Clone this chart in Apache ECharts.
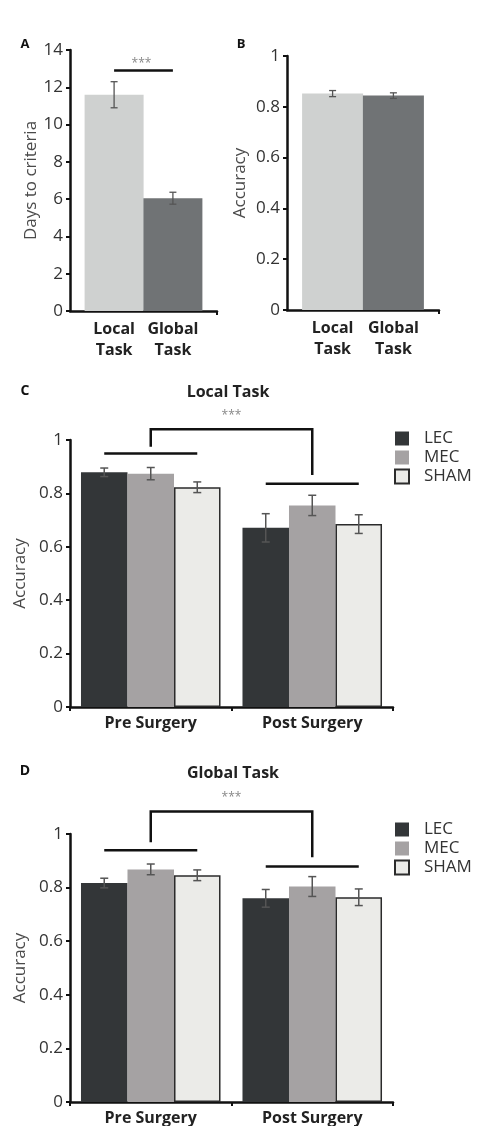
<!DOCTYPE html>
<html>
<head>
<meta charset="utf-8">
<script src="https://cdn.jsdelivr.net/npm/echarts@6/dist/echarts.min.js"></script>
<style>
html,body{margin:0;padding:0;background:#fff;}
#chart{width:485px;height:1126px;}
</style>
</head>
<body>
<div id="chart"></div>
<script>
// ---------- data ----------
const taskCats = ['Local\nTask', 'Global\nTask'];
const taskPos = [1, 2];
const taskColors = ['#cfd1d0', '#707375'];
const daysMean = [11.6, 6.05];
const daysErr = [0.7, 0.32];
const accMean = [0.852, 0.844];
const accErr = [0.012, 0.011];
const daysTicks = [0, 14, 2];   // min, max, interval
const accTicks = [0, 1, 0.2];

const groups = ['Pre Surgery', 'Post Surgery'];
const lesionNames = ['LEC', 'MEC', 'SHAM'];
const lesionColors = ['#333638', '#a5a2a3', '#ebebe8'];

const localLEC = [0.879, 0.671];
const localMEC = [0.874, 0.755];
const localSHAM = [0.823, 0.685];
const localLECErr = [0.016, 0.053];
const localMECErr = [0.023, 0.038];
const localSHAMErr = [0.02, 0.035];

const globalLEC = [0.817, 0.76];
const globalMEC = [0.868, 0.804];
const globalSHAM = [0.846, 0.764];
const globalLECErr = [0.018, 0.033];
const globalMECErr = [0.02, 0.037];
const globalSHAMErr = [0.02, 0.031];

// significance annotations (data units)
const sigA = [1, 2, 12.9];                        // from, to, level
const bracketC = [1.04, 0.975, 0.869, 0.949, 0.836]; // top, left foot, right foot, pre line, post line
const bracketD = [1.084, 0.969, 0.913, 0.939, 0.879];

// ---------- style ----------
const FONT = 'Open Sans';
const GAP = 0.136;
const axisColor = '#111';
const errColor = '#555';

function yAxisCfg(grid, ticks, name, nameGap) {
  return {
    type: 'value', gridIndex: grid, min: ticks[0], max: ticks[1], interval: ticks[2],
    name: name, nameLocation: 'middle', nameGap: nameGap,
    nameTextStyle: { fontFamily: FONT, fontSize: 17, color: '#4a4a4a' },
    axisLine: { show: true, onZero: false, lineStyle: { color: axisColor, width: 2.5 } },
    axisTick: { show: true, length: 4, lineStyle: { color: axisColor, width: 2 } },
    axisLabel: { fontFamily: FONT, fontSize: 17, color: '#333', margin: 7 },
    splitLine: { show: false }
  };
}
function xTaskCfg(grid) {
  return {
    type: 'value', gridIndex: grid, min: 0.25, max: 2.75,
    axisLine: { show: true, onZero: false, lineStyle: { color: axisColor, width: 2.5 } },
    axisTick: { show: true, length: 4, customValues: [2.75], lineStyle: { color: axisColor, width: 2 } },
    axisLabel: {
      customValues: taskPos,
      formatter: v => taskCats[taskPos.indexOf(v)] || '',
      fontFamily: FONT, fontSize: 16, fontWeight: 'bold', color: '#222',
      lineHeight: 21, margin: 8
    },
    splitLine: { show: false }
  };
}
function xGroupCfg(grid) {
  return {
    type: 'category', gridIndex: grid, data: groups,
    axisLine: { show: true, lineStyle: { color: axisColor, width: 2.5 } },
    axisTick: { show: true, length: 4, lineStyle: { color: axisColor, width: 2 } },
    axisLabel: { fontFamily: FONT, fontSize: 16, fontWeight: 'bold', color: '#222', margin: 8 },
    splitLine: { show: false }
  };
}

function errTaskSeries(idx, means, errs) {
  return {
    type: 'custom', xAxisIndex: idx, yAxisIndex: idx, z: 5, silent: true,
    data: taskPos.map((p, i) => [p, means[i], errs[i]]),
    renderItem: function (params, api) {
      const x = api.value(0), m = api.value(1), e = api.value(2);
      const t = api.coord([x, m + e]), b = api.coord([x, m - e]);
      const c = 3.5;
      const ls = { stroke: errColor, lineWidth: 1.3 };
      return { type: 'group', children: [
        { type: 'line', shape: { x1: t[0], y1: t[1], x2: b[0], y2: b[1] }, style: ls },
        { type: 'line', shape: { x1: t[0] - c, y1: t[1], x2: t[0] + c, y2: t[1] }, style: ls },
        { type: 'line', shape: { x1: b[0] - c, y1: b[1], x2: b[0] + c, y2: b[1] }, style: ls }
      ]};
    }
  };
}

function errGroupSeries(idx, k, means, errs) {
  return {
    type: 'custom', name: lesionNames[k] + ' error', xAxisIndex: idx, yAxisIndex: idx, z: 5, silent: true,
    data: groups.map((g, i) => [i, means[i], errs[i]]),
    renderItem: function (params, api) {
      const band = api.size([1, 0])[0];
      const bw = band * (1 - GAP) / 3;
      const m = api.value(1), e = api.value(2);
      const t = api.coord([api.value(0), m + e]), b = api.coord([api.value(0), m - e]);
      const x = t[0] + (k - 1) * bw;
      const c = 4;
      const ls = { stroke: errColor, lineWidth: 1.5 };
      return { type: 'group', children: [
        { type: 'line', shape: { x1: x, y1: t[1], x2: x, y2: b[1] }, style: ls },
        { type: 'line', shape: { x1: x - c, y1: t[1], x2: x + c, y2: t[1] }, style: ls },
        { type: 'line', shape: { x1: x - c, y1: b[1], x2: x + c, y2: b[1] }, style: ls }
      ]};
    }
  };
}

function bracketSeries(idx, br) {
  return {
    type: 'custom', xAxisIndex: idx, yAxisIndex: idx, z: 6, silent: true, clip: false,
    data: [[0, br[0]]],
    renderItem: function (params, api) {
      const band = api.size([1, 0])[0];
      const bw = band * (1 - GAP) / 3;
      const L = api.coord([0, br[0]]), R = api.coord([1, br[0]]);
      const lf = api.coord([0, br[1]])[1], rf = api.coord([1, br[2]])[1];
      const pre = api.coord([0, br[3]]), post = api.coord([1, br[4]]);
      const ls = { stroke: axisColor, lineWidth: 2.5, fill: null };
      return { type: 'group', children: [
        { type: 'polyline', shape: { points: [[L[0], lf], [L[0], L[1]], [R[0], R[1]], [R[0], rf]] }, style: ls },
        { type: 'line', shape: { x1: pre[0] - bw, y1: pre[1], x2: pre[0] + bw, y2: pre[1] }, style: ls },
        { type: 'line', shape: { x1: post[0] - bw, y1: post[1], x2: post[0] + bw, y2: post[1] }, style: ls },
        { type: 'text', x: (L[0] + R[0]) / 2, y: L[1] - 14,
          style: { text: '***', fill: '#888', font: '12px "' + FONT + '"', align: 'center', verticalAlign: 'middle' } }
      ]};
    }
  };
}

const series = [];
// Panel A
series.push({
  type: 'bar', xAxisIndex: 0, yAxisIndex: 0, barWidth: 59,
  data: taskPos.map((p, i) => ({ value: [p, daysMean[i]], itemStyle: { color: taskColors[i] } }))
});
series.push(errTaskSeries(0, daysMean, daysErr));
series.push({
  type: 'custom', xAxisIndex: 0, yAxisIndex: 0, z: 6, silent: true, clip: false,
  data: [[sigA[0], sigA[2], sigA[1]]],
  renderItem: function (params, api) {
    const a = api.coord([api.value(0), api.value(1)]);
    const b = api.coord([api.value(2), api.value(1)]);
    return { type: 'group', children: [
      { type: 'line', shape: { x1: a[0], y1: a[1], x2: b[0], y2: b[1] }, style: { stroke: axisColor, lineWidth: 2.5 } },
      { type: 'text', x: (a[0] + b[0]) / 2 - 2, y: a[1] - 7,
        style: { text: '***', fill: '#888', font: '12px "' + FONT + '"', align: 'center', verticalAlign: 'middle' } }
    ]};
  }
});
// Panel B
series.push({
  type: 'bar', xAxisIndex: 1, yAxisIndex: 1, barWidth: 61,
  data: taskPos.map((p, i) => ({ value: [p, accMean[i]], itemStyle: { color: taskColors[i] } }))
});
series.push(errTaskSeries(1, accMean, accErr));

// Panels C & D
const localSets = [[localLEC, localLECErr], [localMEC, localMECErr], [localSHAM, localSHAMErr]];
const globalSets = [[globalLEC, globalLECErr], [globalMEC, globalMECErr], [globalSHAM, globalSHAMErr]];
function lesionItemStyle(k) {
  return k === 2 ? { color: lesionColors[k], borderColor: '#2b2b2b', borderWidth: 1.5 }
                 : { color: lesionColors[k] };
}
[[2, localSets], [3, globalSets]].forEach(([idx, sets]) => {
  sets.forEach((s, k) => {
    series.push({
      type: 'bar', name: lesionNames[k], xAxisIndex: idx, yAxisIndex: idx,
      barGap: '0%', barCategoryGap: (GAP * 100) + '%',
      itemStyle: lesionItemStyle(k), data: s[0]
    });
  });
  sets.forEach((s, k) => series.push(errGroupSeries(idx, k, s[0], s[1])));
});
series.push(bracketSeries(2, bracketC));
series.push(bracketSeries(3, bracketD));

function legendCfg(top) {
  return {
    data: lesionNames, orient: 'vertical', left: 394, top: top,
    itemWidth: 14, itemHeight: 14, itemGap: 0, icon: 'rect', selectedMode: false,
    padding: 0,
    textStyle: { fontFamily: FONT, fontSize: 17, color: '#333', lineHeight: 19, padding: [0, 0, 0, 10] }
  };
}

const textEl = (t, x, y, size, weight, color) => ({
  type: 'text', x: x, y: y,
  style: { text: t, font: weight + ' ' + size + 'px "' + FONT + '"', fill: color, align: 'center', verticalAlign: 'middle' }
});

const option = {
  animation: false,
  backgroundColor: '#fff',
  grid: [
    { left: 70, top: 50, width: 147, height: 261 },
    { left: 287, top: 56, width: 152, height: 254 },
    { left: 70, top: 440, width: 323, height: 267 },
    { left: 70, top: 834, width: 323, height: 269 }
  ],
  xAxis: [xTaskCfg(0), xTaskCfg(1), xGroupCfg(2), xGroupCfg(3)],
  yAxis: [
    yAxisCfg(0, daysTicks, 'Days to criteria', 28),
    yAxisCfg(1, accTicks, 'Accuracy', 38),
    yAxisCfg(2, accTicks, 'Accuracy', 40),
    yAxisCfg(3, accTicks, 'Accuracy', 38)
  ],
  legend: [legendCfg(429), legendCfg(820)],
  graphic: [
    textEl('A', 25, 44, 13, 'bold', '#111'),
    textEl('B', 241, 44, 13, 'bold', '#111'),
    textEl('C', 25, 391, 14, 'bold', '#111'),
    textEl('D', 25, 771, 14, 'bold', '#111'),
    textEl('Local Task', 228, 392, 16, 'bold', '#222'),
    textEl('Global Task', 233, 773, 16, 'bold', '#222')
  ],
  series: series
};

const chart = echarts.init(document.getElementById('chart'), null, { renderer: 'canvas' });
chart.setOption(option);
</script>
</body>
</html>
